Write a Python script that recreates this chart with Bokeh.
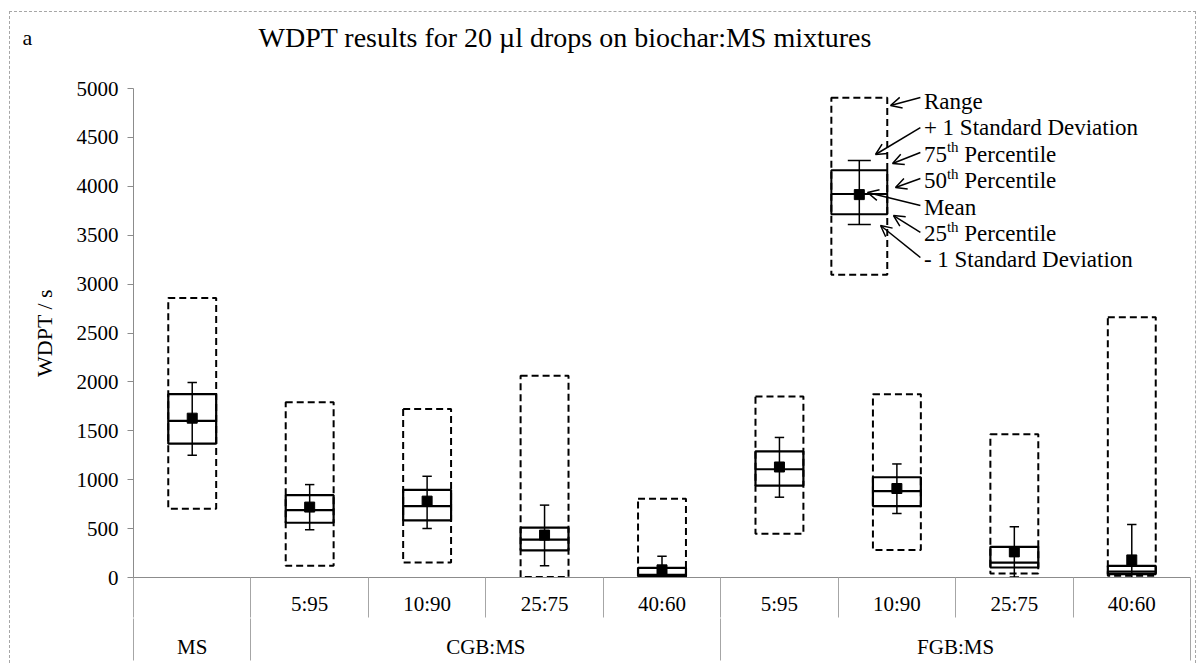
import numpy as np
from bokeh.plotting import figure
from bokeh.layouts import column
from bokeh.models import Range1d, LinearAxis, FixedTicker, Arrow, OpenHead
from bokeh.embed import file_html
from bokeh.resources import INLINE
from bokeh.core.properties import value

# ---------------- data ----------------
groups = ["MS", "CGB:MS", "CGB:MS", "CGB:MS", "CGB:MS", "FGB:MS", "FGB:MS", "FGB:MS", "FGB:MS"]
ratios = ["", "5:95", "10:90", "25:75", "40:60", "5:95", "10:90", "25:75", "40:60"]
range_min = [703, 119, 153, 5, 8, 448, 282, 41, 17]
range_max = [2858, 1792, 1724, 2064, 804, 1850, 1874, 1466, 2660]
q1 = [1368, 560, 584, 278, 14, 940, 730, 102, 34]
median = [1602, 689, 730, 387, 27, 1107, 883, 153, 61]
q3 = [1874, 842, 896, 509, 98, 1290, 1025, 314, 119]
mean = [1629, 720, 781, 434, 78, 1130, 910, 262, 180]
sd_minus = [1249, 489, 502, 119, -60, 821, 655, 5, -180]
sd_plus = [1993, 950, 1035, 740, 217, 1432, 1161, 519, 543]
y_ticks = [0, 500, 1000, 1500, 2000, 2500, 3000, 3500, 4000, 4500, 5000]

# explanatory key box values
key_range = [3095, 4905]
key_q = [3715, 3920, 4165]
key_mean = 3915
key_sd = [3610, 4265]
key_lines = [("Range", "", ""), ("+ 1 Standard Deviation", "", ""),
             ("75", "th", "Percentile"), ("50", "th", "Percentile"),
             ("Mean", "", ""), ("25", "th", "Percentile"),
             ("- 1 Standard Deviation", "", "")]

title_text = "WDPT results for  20 \u00b5l drops on biochar:MS mixtures"
panel_letter = "a"
y_title = "WDPT / s"

FONT = "Liberation Serif"
GF = value(FONT)
GREY = "#8c8c8c"
SEP = "#a6a6a6"

W = 1185
HEAD_H = 56
P_H = 595

n = len(ratios)
xc = np.arange(n) + 0.5

# ---------------- header (title row) ----------------
head = figure(width=W, height=HEAD_H, x_range=Range1d(0, W), y_range=Range1d(0, HEAD_H),
              output_backend="svg", toolbar_location=None, x_axis_location=None, y_axis_location=None,
              min_border=0)
head.frame_align = False
head.grid.visible = False
head.outline_line_color = None
head.text(x=[248], y=[HEAD_H - 25], text=[title_text], text_font=GF, text_font_size="28px",
          text_align="left", text_baseline="middle", text_color="black")
head.text(x=[12], y=[HEAD_H - 25], text=[panel_letter], text_font=GF, text_font_size="22px",
          text_align="left", text_baseline="middle", text_color="black")

# ---------------- main chart ----------------
p = figure(width=W, height=P_H, x_range=Range1d(0, n), y_range=Range1d(y_ticks[0], y_ticks[-1]),
           output_backend="svg", toolbar_location=None, x_axis_location=None,
           min_border_left=123, min_border_right=5, min_border_top=20, min_border_bottom=86)
p.frame_align = False
p.grid.visible = False
p.outline_line_color = None

ya = p.yaxis[0]
ya.ticker = FixedTicker(ticks=y_ticks)
ya.axis_line_color = GREY
ya.major_tick_line_color = GREY
ya.major_tick_out = 6
ya.major_tick_in = 0
ya.minor_tick_out = 0
ya.minor_tick_in = 0
ya.major_label_text_font = FONT
ya.major_label_text_font_size = "21px"
ya.major_label_text_color = "black"
ya.major_label_standoff = 9
ya.axis_label = y_title
ya.axis_label_text_font = FONT
ya.axis_label_text_font_size = "22px"
ya.axis_label_text_font_style = "normal"
ya.axis_label_text_color = "black"
ya.axis_label_standoff = 17

# bottom category axes: inner ratio labels and outer group labels, with separators
ax1 = LinearAxis(ticker=FixedTicker(ticks=[float(v) for v in xc], minor_ticks=list(range(n + 1))),
                 major_label_overrides={float(x): lab for x, lab in zip(xc, ratios)},
                 axis_line_color=GREY, major_tick_line_color=None, major_tick_out=40, major_tick_in=0,
                 minor_tick_out=40, minor_tick_in=0, minor_tick_line_color=SEP,
                 major_label_standoff=-26, major_label_text_font=FONT, major_label_text_font_size="21px",
                 major_label_text_color="black")
p.add_layout(ax1, "below")

bounds = [0]
centers = []
names = []
start = 0
for i in range(1, n + 1):
    if i == n or groups[i] != groups[start]:
        centers.append((start + i) / 2)
        names.append(groups[start])
        bounds.append(i)
        start = i
ax2 = LinearAxis(ticker=FixedTicker(ticks=[float(c) for c in centers], minor_ticks=bounds),
                 major_label_overrides={float(c): nm for c, nm in zip(centers, names)},
                 axis_line_color=None, major_tick_line_color=None, major_tick_out=42, major_tick_in=0,
                 minor_tick_out=42, minor_tick_in=0, minor_tick_line_color=SEP,
                 major_label_standoff=-26, major_label_text_font=FONT, major_label_text_font_size="21px",
                 major_label_text_color="black")
p.add_layout(ax2, "below")

# ---------------- boxes ----------------
bw = 0.204   # half box width (category units)
cw = 0.040   # half cap width
p.quad(left=xc - bw, right=xc + bw, bottom=range_min, top=range_max, fill_color=None,
       line_color="black", line_width=2, line_dash="7 4")
p.quad(left=xc - bw, right=xc + bw, bottom=q1, top=q3, fill_color=None,
       line_color="black", line_width=2.2)
p.segment(x0=xc - bw, x1=xc + bw, y0=median, y1=median, line_color="black", line_width=2.2)
p.segment(x0=xc, x1=xc, y0=sd_minus, y1=sd_plus, line_color="black", line_width=1.5)
p.segment(x0=xc - cw, x1=xc + cw, y0=sd_plus, y1=sd_plus, line_color="black", line_width=1.5)
p.segment(x0=xc - cw, x1=xc + cw, y0=sd_minus, y1=sd_minus, line_color="black", line_width=1.5)
p.scatter(x=xc, y=mean, marker="square", size=10, color="black")

# ---------------- key (explanatory box) ----------------
kx = 6.18
kbw = 0.238
kcw = 0.098
p.quad(left=[kx - kbw], right=[kx + kbw], bottom=[key_range[0]], top=[key_range[1]], fill_color=None,
       line_color="black", line_width=2, line_dash="7 4")
p.quad(left=[kx - kbw], right=[kx + kbw], bottom=[key_q[0]], top=[key_q[2]], fill_color=None,
       line_color="black", line_width=2)
p.segment(x0=[kx - kbw], x1=[kx + kbw], y0=[key_q[1]], y1=[key_q[1]], line_color="black", line_width=2)
p.segment(x0=[kx], x1=[kx], y0=[key_sd[0]], y1=[key_sd[1]], line_color="black", line_width=1.5)
p.segment(x0=[kx - kcw] * 2, x1=[kx + kcw] * 2, y0=key_sd, y1=key_sd, line_color="black", line_width=1.5)
p.scatter(x=[kx], y=[key_mean], marker="square", size=10, color="black")

tx = 6.73
ty0 = 4867
tstep = 270
FS = 23
SFS = 15
for i, (a, sup, rest) in enumerate(key_lines):
    yy = ty0 - i * tstep
    p.text(x=[tx], y=[yy], text=[a], text_font=GF, text_font_size=f"{FS}px",
           text_align="left", text_baseline="middle", text_color="black")
    if sup:
        w_main = 0.5 * FS * len(a)
        p.text(x=[tx], y=[yy], text=[sup], text_font=GF, text_font_size=f"{SFS}px",
               text_align="left", text_baseline="middle", text_color="black",
               x_offset=w_main, y_offset=-7)
        p.text(x=[tx], y=[yy], text=[rest], text_font=GF, text_font_size=f"{FS}px",
               text_align="left", text_baseline="middle", text_color="black",
               x_offset=w_main + 0.778 * SFS + 0.25 * FS)

# arrows: (tail x, tail y, head x, head y)
arrows = [(6.70, 4908, 6.446, 4826), (6.70, 4601, 6.318, 4325), (6.70, 4346, 6.463, 4233),
          (6.70, 4080, 6.488, 3988), (6.70, 3804, 6.250, 3937), (6.70, 3528, 6.471, 3701),
          (6.70, 3272, 6.361, 3599)]
for xs, ys, xe, ye in arrows:
    p.add_layout(Arrow(x_start=xs, y_start=ys, x_end=xe, y_end=ye, line_width=1.5, line_color="black",
                       end=OpenHead(size=11, line_width=1.5, line_color="black")))

layout = column(head, p, spacing=0)
layout.styles = {"margin-left": "9px", "margin-top": "11px",
                 "border-top": "1px dashed #a6a6a6", "border-left": "1px dashed #a6a6a6",
                 "border-right": "1px dashed #a6a6a6"}

open("out.html", "w").write(file_html(layout, INLINE))
